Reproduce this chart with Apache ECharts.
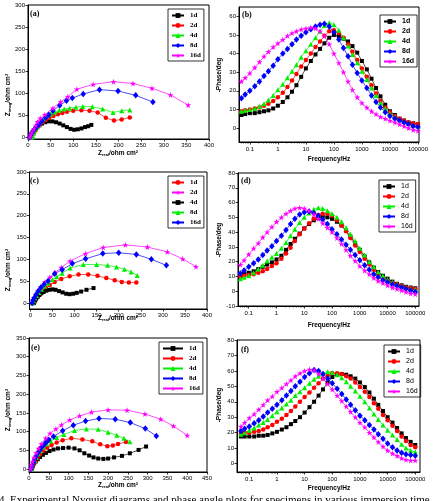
<!DOCTYPE html>
<html><head><meta charset="utf-8">
<script src="https://cdn.jsdelivr.net/npm/echarts@6/dist/echarts.min.js"></script>
<style>html,body{margin:0;padding:0;background:#fff}#c{width:433px;height:501px}</style>
</head><body><div id="c"></div>
<script>
// ---------- DATA ----------
const seriesNames = ['1d','2d','4d','8d','16d'];
const nyqTicksA = [0,50,100,150,200,250,300,350,400];
const nyqTicksAY = [0,50,100,150,200,250,300];
const nyqTicksE = [0,50,100,150,200,250,300,350,400,450];
const nyqTicksEY = [0,50,100,150,200,250,300,350];
const freqTicks = [0.1,1,10,100,1000,10000,100000];
const phaseTicksB = [0,10,20,30,40,50,60];
const phaseTicksD = [-10,0,10,20,30,40,50,60,70,80];
const phaseTicksF = [0,10,20,30,40,50,60,70,80];

// Panel (a) Nyquist [Zreal, Zimag]
const a_1d = [[5,0],[6,3],[8,7],[10,11],[13,15],[16,19],[20,23],[25,27],[31,31],[38,34],[46,36],[54,36],[62,34],[70,31],[78,27],[86,23],[94,19],[102,17],[110,18],[118,20],[126,23],[133,25],[140,28]];
const a_2d = [[8,0],[10,5],[13,10],[17,16],[21,22],[26,28],[32,34],[39,39],[47,44],[56,48],[66,52],[76,55],[86,58],[100,60],[118,61],[136,60],[154,56],[172,44],[190,38],[207,40],[225,45]];
const a_4d = [[9,0],[10,4],[12,9],[14,14],[17,19],[20,24],[24,30],[29,36],[35,42],[42,48],[50,53],[59,57],[69,61],[80,64],[92,66],[106,68],[121,70],[142,69],[165,64],[188,56],[207,60],[225,62]];
const a_8d = [[4,0],[6,5],[9,10],[12,15],[16,20],[20,25],[25,30],[31,37],[39,44],[46,51],[55,60],[70,72],[85,83],[98,89],[122,98],[158,108],[199,105],[238,95],[276,80]];
const a_16d = [[4,0],[6,6],[9,12],[13,19],[17,27],[21,35],[27,43],[37,51],[55,66],[72,80],[88,92],[108,109],[144,120],[189,126],[232,122],[274,111],[315,96],[354,73]];

// Panel (c) Nyquist
const c_1d = [[8,0],[10,4],[13,9],[17,14],[22,20],[28,27],[35,34],[44,41],[55,48],[70,55],[89,61],[109,65],[131,65],[152,62],[172,57],[191,52],[207,48],[223,47],[240,47]];
const c_2d = [[3,0],[5,6],[8,12],[12,19],[17,27],[24,37],[33,48],[44,59],[56,70],[70,81],[90,96],[125,113],[165,127],[215,133],[265,128],[310,117],[345,101],[375,83]];
const c_4d = [[8,0],[9,3],[11,7],[13,10],[16,14],[20,18],[25,22],[30,25],[36,28],[43,30],[50,31],[57,30],[65,27],[73,24],[81,21],[89,20],[97,21],[105,23],[115,26],[127,30],[143,34]];
const c_8d = [[5,0],[7,5],[10,11],[14,17],[19,24],[25,31],[32,38],[40,45],[50,53],[60,60],[72,68],[90,80],[120,88],[150,88],[175,86],[195,82],[213,77],[228,71],[242,63]];
const c_16d = [[4,0],[6,6],[9,12],[13,19],[18,27],[24,35],[31,43],[40,50],[55,67],[72,76],[95,90],[125,101],[164,113],[200,115],[240,111],[274,100],[308,86]];

// Panel (e) Nyquist
const e_1d = [[6,0],[8,4],[10,9],[13,14],[17,20],[22,26],[28,32],[35,38],[43,43],[52,48],[62,52],[73,55],[86,56],[100,57],[115,55],[128,50],[140,42],[152,36],[163,31],[175,28],[188,27],[200,28],[215,31],[235,35],[255,42],[277,51],[296,60]];
const e_2d = [[7,0],[9,6],[12,13],[16,21],[21,30],[28,40],[36,49],[46,57],[57,64],[70,71],[85,77],[107,82],[135,79],[160,74],[180,66],[198,61],[212,63],[225,67],[245,72]];
const e_4d = [[6,0],[8,7],[11,15],[14,23],[18,31],[23,40],[29,49],[36,58],[45,67],[55,75],[70,84],[88,92],[115,103],[145,107],[175,106],[200,98],[222,90],[240,82],[255,73]];
const e_8d = [[5,0],[6,5],[9,12],[11,18],[14,26],[18,35],[22,43],[27,50],[32,58],[38,65],[44,72],[50,78],[62,87],[85,102],[112,117],[143,128],[177,135],[218,133],[256,124],[294,108],[322,88]];
const e_16d = [[4,0],[6,10],[9,20],[13,31],[18,43],[24,55],[31,67],[42,82],[53,95],[68,107],[82,118],[103,131],[128,142],[158,152],[200,158],[248,157],[293,147],[333,133],[365,115],[400,90]];

// Bode frequencies (Hz)
const freq = [0.05,0.068,0.1,0.15,0.22,0.32,0.46,0.68,1,1.5,2.2,3.2,4.6,6.8,10,15,22,32,46,68,100,150,220,320,460,680,1000,1500,2200,3200,4600,6800,10000,15000,22000,32000,46000,68000,100000];

// Panel (b) -phase (deg)
const b_1d = [7,7.5, 8,8,8.5,9,9.5,10.5, 12,14,16.5,19.5,23,27.5, 32,36,39.5,42.5,45.5,48.5, 50,49.5,48,46.5,44,40.5, 36,31.5,26.5,21.5,17,12.5, 9,7,5,4,3,2.5, 2];
const b_2d = [9,9.5, 10,10.5,11,12,13,14.5, 16.5,19,22,25.5,29,33, 36.5,40,43.5,46.5,49.5,52, 52.5,51,48.5,45,41,36.5, 32,27.5,23,18.5,14.5,11, 8.5,6.5,5,4,3,2.5, 2];
const b_4d = [9,9.5, 10,10.5,11.5,13,15,17.5, 20.5,23.5,27,30.5,34,38, 41.5,45,48.5,52,55,56.5, 55.5,52.5,48.5,44,39.5,35, 30.5,26,21.5,17.5,13.5,10.5, 8,6,4.5,3.5,2.5,1.5, 1];
const b_8d = [16,18, 20,22.5,25,28,30.5,33.5, 37,40,42.5,45,47.5,49.5, 51.5,53,54.5,55.5,56,54.5, 51.5,47.5,43,38.5,34,29.5, 25.5,21.5,17.5,14,11,8.5, 6.5,5,4,3,2,1, 0.5];
const b_16d = [25,27, 29.5,32.5,35.5,38.5,41,43.5, 45.5,47.5,49.5,51,52,53, 53.5,54,53.5,52,49.5,45, 40,35,30,25,20.5,16.5, 13.5,11,9,7.5,6,5, 4,3,2,1,0,-1, -1.5];

// Panel (d) -phase (deg)
const d_1d = [11,12, 12.5,13.5,15,16.5,18,19.5, 21.5,24,28,32,35.5,39, 42.5,45.5,48,49.5,50.5,50, 49,47,44.5,41,37,32.5, 28,23.5,19.5,16,13,10.5, 8.5,6.5,5,4,3,2.5, 2];
const d_2d = [10,10.5, 11,11.5,12.5,13.5,15,17, 19,22,25.5,29.5,34,38.5, 42.5,46,49,51.5,52.5,52.5, 51,48,44.5,40.5,36,31, 26.5,22,18,14.5,11.5,9, 7,5.5,4.5,3.5,2.5,2, 1.5];
const d_4d = [8.5,9.5, 10.5,12.5,15,17.5,20.5,23, 25.5,29,33,37.5,42,46.5, 50,53,55.5,56.5,56,54.5, 52.5,50,47,43,38.5,34, 29,24.5,20,16.5,13,10.5, 8,6,4.5,3.5,2.5,1.5, 1];
const d_8d = [12,14, 16.5,19,21.5,24.5,27.5,30.5, 34,37.5,41.5,45.5,49,52, 53.5,54,53,51,48.5,45.5, 42,38.5,35,31.5,28,24.5, 21,17.5,14.5,11.5,9.5,7.5, 6,4.5,3.5,2.5,1.5,0.5, -0.5];
const d_16d = [18,21, 25,29,32.5,36.5,40,43.5, 47,50,52.5,54.5,56,56.5, 56,54.5,52,49,46,43, 40,36,32,28,24,20.5, 17,14,11.5,9,7,5.5, 4,2.5,1.5,0.5,-0.5,-1.5, -2];

// Panel (f) -phase (deg)
const f_1d = [17.5,17.5, 17.5,17.5,18,18,18.5,19.5, 20.5,22,23.5,25.5,27.5,30, 33,36.5,40,44,48,52.5, 56,58,58,57.5,56.5,55, 52.5,49.5,46,42,38,34, 30,26.5,23,19.5,16.5,14, 12];
const f_2d = [19.5,20, 20,20.5,21,22,23.5,25, 27,29,31.5,34,37,40, 43,46,49,52,55,57, 58.5,58.5,58,56.5,55,52.5, 49.5,46.5,43,39,35.5,31.5, 28,24.5,21,17.5,14.5,12, 10.5];
const f_4d = [19,20, 21.5,23,25,26.5,28.5,31, 33.5,36,38.5,41,44,46.5, 49,52,54.5,56.5,58.5,59.5, 59,57.5,55.5,53,50,47, 43.5,40,36,32,28.5,25, 21.5,18.5,15.5,12.5,10,8.5, 7.5];
const f_8d = [21,22.5, 24,26,28,30.5,33,35.5, 38,41,44,47,50,53, 56,58.5,60.5,60,58,55, 52,48.5,45,41.5,38,34.5, 31,28,25,22,19,16, 13,10.5,8.5,7,6,5.5, 5];
const f_16d = [24,26.5, 29.5,32,35,38,41,43.5, 46.5,49,51.5,54,56.5,58.5, 60,61,60.5,58,55,51.5, 48,44,40.5,37,33.5,30, 26.5,23.5,20,17,14,11, 8.5,6.5,5,3.5,2.5,2, 2];

// ---------- STYLE ----------
const STAR = 'path://M50,0 L61,35 L98,35 L68,57 L79,91 L50,70 L21,91 L32,57 L2,35 L39,35 Z';
const SYM = {
  k:{color:'#000000', symbol:'rect', size:4},
  r:{color:'#ff0000', symbol:'circle', size:4.5},
  g:{color:'#00ee00', symbol:'triangle', size:5},
  b:{color:'#0000ff', symbol:'diamond', size:[5.5,6.5]},
  m:{color:'#ff00ff', symbol:STAR, size:6}
};
const SANS = 'Liberation Sans', SERIF = 'Liberation Serif';

function zip(vals){ return freq.map((f,i)=>[f, vals[i]]); }
function ser(panel, idx, name, data, s){
  return {type:'line', name: panel+'_'+name, xAxisIndex: idx, yAxisIndex: idx, data: data,
    symbol: s.symbol, symbolSize: s.size, itemStyle:{color:s.color},
    lineStyle:{color:s.color, width:0.7}, animation:false, silent:true};
}
function valAxis(gi, min, max, ticks, isX){
  return {type:'value', gridIndex: gi, min: min, max: max,
    axisLine:{show:true, onZero:false, lineStyle:{color:'#000', width:1}},
    axisTick:{show:true, inside:false, length:2.5, customValues: ticks, lineStyle:{color:'#000', width:0.8}},
    minorTick:{show:false},
    axisLabel:{fontSize:6, color:'#000', fontFamily:SANS, margin:3, customValues: ticks},
    splitLine:{show:false}};
}
function logAxis(gi, min, max){
  return {type:'log', logBase:10, gridIndex: gi, min: min, max: max,
    axisLine:{show:true, onZero:false, lineStyle:{color:'#000', width:1}},
    axisTick:{show:true, inside:false, length:2.5, customValues: freqTicks, lineStyle:{color:'#000', width:0.8}},
    minorTick:{show:true, splitNumber:9, length:1.5, lineStyle:{color:'#000', width:0.6}},
    axisLabel:{fontSize:6, color:'#000', fontFamily:SANS, margin:4, customValues: freqTicks,
      formatter: v => String(+v.toPrecision(6))},
    splitLine:{show:false}, minorSplitLine:{show:false}};
}
function legend(panel, left, top, font, bold, iw){
  return {data: seriesNames.map(n=>panel+'_'+n), left:left, top:top, orient:'vertical',
    borderColor:'#000', borderWidth:0.8, padding:[3,3,2,3], itemGap:3, itemWidth: iw||12, itemHeight:6,
    selectedMode:false, formatter: n => n.split('_')[1],
    textStyle:{fontSize:7, fontFamily:font, fontWeight: bold?'bold':'normal', color:'#000', padding:[0,0,0,1]}};
}

const grids = [
  {left:28, top:5, width:181, height:134},
  {left:239, top:7, width:180, height:135},
  {left:29.5, top:172, width:177.5, height:137},
  {left:238, top:173, width:181, height:133},
  {left:29, top:338, width:178, height:134},
  {left:237, top:340, width:183, height:132}
].map(g => Object.assign(g, {show:true, borderColor:'#000', borderWidth:1, containLabel:false}));

const xAxes = [
  valAxis(0, 0, 400, nyqTicksA, true),
  logAxis(1, 0.041, 109000),
  valAxis(2, -2, 400, nyqTicksA, true),
  logAxis(3, 0.041, 136000),
  valAxis(4, 0, 450, nyqTicksE, true),
  logAxis(5, 0.036, 148000)
];
const yAxes = [
  valAxis(0, -4, 300, nyqTicksAY),
  valAxis(1, -7.5, 65, phaseTicksB),
  valAxis(2, -14, 300, nyqTicksAY),
  valAxis(3, -10, 80, phaseTicksD),
  valAxis(4, -8, 350, nyqTicksEY),
  valAxis(5, -5.5, 80, phaseTicksF)
];

const series = [
  ser('a',0,'1d',a_1d,SYM.k), ser('a',0,'2d',a_2d,SYM.r), ser('a',0,'4d',a_4d,SYM.g), ser('a',0,'8d',a_8d,SYM.b), ser('a',0,'16d',a_16d,SYM.m),
  ser('b',1,'1d',zip(b_1d),SYM.k), ser('b',1,'2d',zip(b_2d),SYM.r), ser('b',1,'4d',zip(b_4d),SYM.g), ser('b',1,'8d',zip(b_8d),SYM.b), ser('b',1,'16d',zip(b_16d),SYM.m),
  ser('c',2,'1d',c_1d,SYM.r), ser('c',2,'2d',c_2d,SYM.m), ser('c',2,'4d',c_4d,SYM.k), ser('c',2,'8d',c_8d,SYM.g), ser('c',2,'16d',c_16d,SYM.b),
  ser('d',3,'1d',zip(d_1d),SYM.k), ser('d',3,'2d',zip(d_2d),SYM.r), ser('d',3,'4d',zip(d_4d),SYM.g), ser('d',3,'8d',zip(d_8d),SYM.b), ser('d',3,'16d',zip(d_16d),SYM.m),
  ser('e',4,'1d',e_1d,SYM.k), ser('e',4,'2d',e_2d,SYM.r), ser('e',4,'4d',e_4d,SYM.g), ser('e',4,'8d',e_8d,SYM.b), ser('e',4,'16d',e_16d,SYM.m),
  ser('f',5,'1d',zip(f_1d),SYM.k), ser('f',5,'2d',zip(f_2d),SYM.r), ser('f',5,'4d',zip(f_4d),SYM.g), ser('f',5,'8d',zip(f_8d),SYM.b), ser('f',5,'16d',zip(f_16d),SYM.m)
];

const panelLabel = (t, l, tp) => ({text:t, left:l, top:tp, padding:0,
  textStyle:{fontFamily:SERIF, fontWeight:'bold', fontSize:8, color:'#000'}});

const rich = {
  s:{fontSize:4, fontFamily:SANS, fontWeight:'bold', verticalAlign:'bottom', fill:'#000', padding:[3,0,0,0]},
  p:{fontSize:4, fontFamily:SANS, fontWeight:'bold', verticalAlign:'top', fill:'#000', padding:[0,0,3,0]},
  n:{fontSize:6.5, fontFamily:SANS, fontWeight:'bold', fill:'#000'}
};
function txt(x, y, text, rot){
  return {type:'text', x:x, y:y, rotation: rot||0, silent:true,
    style:{text:text, rich:rich, fill:'#000', fontSize:6.5, fontFamily:SANS, fontWeight:'bold',
      align:'center', verticalAlign:'middle'}};
}
const graphics = [
  txt(118, 153, '{n|Z}{s|real}{n|/ohm cm}{p|2}'),
  txt(118, 318, '{n|Z}{s|real}{n|/ohm cm}{p|2}'),
  txt(118, 485, '{n|Z}{s|real}{n|/ohm cm}{p|2}'),
  txt(8, 95, '{n|Z}{s|imag}{n|/ohm cm}{p|2}', Math.PI/2),
  txt(8, 270, '{n|Z}{s|imag}{n|/ohm cm}{p|2}', Math.PI/2),
  txt(8, 410, '{n|Z}{s|imag}{n|/ohm cm}{p|2}', Math.PI/2),
  txt(329, 159, 'Frequency/Hz'),
  txt(329, 325, 'Frequency/Hz'),
  txt(329, 488, 'Frequency/Hz'),
  txt(219, 75, '-Phase/deg', Math.PI/2),
  txt(219, 240, '-Phase/deg', Math.PI/2),
  txt(219, 405, '-Phase/deg', Math.PI/2),
  {type:'text', x:-1, y:494.5, silent:true, style:{text:'4. Experimental Nyquist diagrams and phase angle plots for specimens in various immersion time',
    fill:'#000', fontSize:11, fontFamily:SERIF, align:'left', verticalAlign:'top'}}
];

const chart = echarts.init(document.getElementById('c'), null, {renderer:'canvas'});
chart.setOption({
  backgroundColor:'#fff',
  animation:false,
  title:[panelLabel('(a)',30,10), panelLabel('(b)',242,11), panelLabel('(c)',30,177), panelLabel('(d)',241,177), panelLabel('(e)',31,344), panelLabel('(f)',241,346)],
  grid: grids,
  xAxis: xAxes,
  yAxis: yAxes,
  legend:[legend('a',168,9,SERIF,true), legend('b',380,15,SANS,true), legend('c',168,176,SERIF,true),
          legend('d',379,180,SANS,false), legend('e',159,342,SERIF,true,20), legend('f',384,345,SANS,false)],
  series: series,
  graphic: graphics
});
</script>
</body></html>
